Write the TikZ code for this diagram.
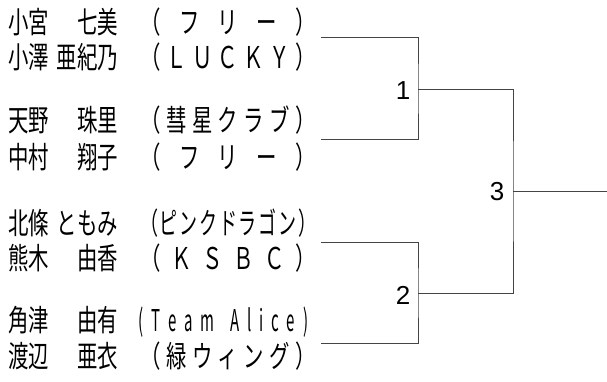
\documentclass[tikz,border=0pt]{standalone}
\usepackage{fontspec}
\usepackage{xcolor}
\usepackage{tikz}
\usetikzlibrary{calc}
\newfontfamily\jp[FakeStretch=0.68]{Noto Sans CJK JP}
\newfontfamily\jpc[FakeStretch=0.6]{Noto Sans CJK JP}
\newfontfamily\jpn[FakeStretch=0.5]{Noto Sans CJK JP}
\newfontfamily\digits{Liberation Sans}
\definecolor{bg}{HTML}{FFFFFF}
\definecolor{ink}{HTML}{000000}
\definecolor{wirec}{HTML}{444444}
\newcommand{\pname}[2]{\makebox[110pt][s]{#1\hfill#2}}
\newcommand{\team}[1]{\makebox[176pt][s]{#1}}
\tikzset{
  player/.style={anchor=west, inner sep=0pt, text=ink, font=\fontsize{30}{30}\selectfont\jp},
  wire/.style={draw=wirec, line width=0.8pt},
  num/.style={text=ink, inner sep=0pt, font=\fontsize{26}{26}\selectfont\digits}
}

\begin{document}
\begin{tikzpicture}[x=1pt,y=-1pt]
  \useasboundingbox[fill=bg] (0,0) rectangle (607,381);
  \node[player] (p1) at (8,22)  {\pname{小宮}{七美}\hspace{22pt}\team{（\hfill フ\hfill リ\hfill ー\hfill ）}};
  \node[player] (p2) at (8,57)  {\pname{小澤}{亜紀乃}\hspace{22pt}\team{（\hfill Ｌ\hfill Ｕ\hfill Ｃ\hfill Ｋ\hfill Ｙ\hfill ）}};
  \node[player] (p3) at (8,120) {\pname{天野}{珠里}\hspace{22pt}\team{（\hfill 彗\hfill 星\hfill ク\hfill ラ\hfill ブ\hfill ）}};
  \node[player] (p4) at (8,157) {\pname{中村}{翔子}\hspace{22pt}\team{（\hfill フ\hfill リ\hfill ー\hfill ）}};
  \node[player] (p5) at (8,223) {\pname{北條}{ともみ}\hspace{22pt}\team{\jpc（\hfill ピ\hfill ン\hfill ク\hfill ド\hfill ラ\hfill ゴ\hfill ン\hfill ）}};
  \node[player] (p6) at (8,258) {\pname{熊木}{由香}\hspace{22pt}\team{（\hfill Ｋ\hfill Ｓ\hfill Ｂ\hfill Ｃ\hfill ）}};
  \node[player] (p7) at (8,322) {\pname{角津}{由有}\hspace{20pt}\makebox[170pt][s]{\jpn (\hfill T\hfill e\hfill a\hfill m\hfill\hfill A\hfill l\hfill i\hfill c\hfill e\hfill )}};
  \node[player] (p8) at (8,356) {\pname{渡辺}{亜衣}\hspace{22pt}\team{（\hfill 緑\hfill ウ\hfill ィ\hfill ン\hfill グ\hfill ）}};

  \coordinate (a1) at (321,37);
  \coordinate (b1) at (321,139);
  \coordinate (a2) at (321,242);
  \coordinate (b2) at (321,343);
  \coordinate (j1) at (418,89);
  \coordinate (j2) at (418,293);
  \coordinate (j3) at (513,191);
  \coordinate (fin) at (607,191);

  \draw[wire] (a1) -| (j1) |- (b1);
  \draw[wire] (a2) -| (j2) |- (b2);
  \draw[wire] (j1) -| (j3) |- (j2);
  \draw[wire] (j3) -- (fin);

  \node[num] (m1) at (403,91)  {1};
  \node[num] (m2) at (403,295) {2};
  \node[num] (m3) at (497,192) {3};
\end{tikzpicture}
\end{document}
